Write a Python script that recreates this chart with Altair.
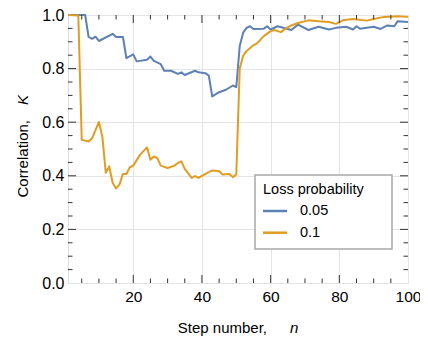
import altair as alt
import pandas as pd

# ---- data ----
series_names = ["0.05", "0.1"]
series_colors = ["#5E81B5", "#E19C24"]

blue_n = [1, 6, 7, 8, 9, 10, 14, 15, 17, 18, 20, 21, 24, 25, 26, 28, 29, 31, 33, 34, 35,
          38, 39, 41, 42, 43, 45, 47, 49, 50, 51, 52, 53, 54, 55, 58, 59, 60, 62, 65, 66,
          68, 71, 74, 77, 79, 82, 84, 85, 86, 90, 92, 94, 96, 97, 100]
blue_v = [1.0, 1.0, 0.918, 0.911, 0.919, 0.903, 0.930, 0.918, 0.918, 0.839, 0.853, 0.827,
          0.833, 0.845, 0.829, 0.817, 0.792, 0.792, 0.780, 0.786, 0.776,
          0.792, 0.786, 0.783, 0.774, 0.696, 0.712, 0.721, 0.737, 0.731, 0.884, 0.934,
          0.952, 0.958, 0.948, 0.949, 0.958, 0.946, 0.958, 0.948, 0.944,
          0.964, 0.944, 0.956, 0.946, 0.952, 0.956, 0.946, 0.958, 0.949, 0.956, 0.948,
          0.961, 0.958, 0.977, 0.974]

orange_n = [1, 4, 5, 7, 8, 10, 11, 12, 13, 14, 15, 16, 17, 18, 19, 20, 22, 24, 25, 26, 27,
            28, 30, 32, 33, 34, 35, 37, 38, 39, 41, 43, 45, 46, 48, 49, 50, 51, 52, 53,
            55, 56, 57, 58, 60, 61, 63, 64, 66, 68, 71, 74, 77, 79, 81, 84, 88, 90, 93,
            97, 100]
orange_v = [1.0, 0.998, 0.534, 0.528, 0.540, 0.601, 0.546, 0.411, 0.435, 0.374, 0.353,
            0.368, 0.407, 0.407, 0.432, 0.438, 0.479, 0.506, 0.460, 0.472, 0.466,
            0.438, 0.429, 0.438, 0.448, 0.454, 0.426, 0.392, 0.399, 0.392, 0.407, 0.420,
            0.417, 0.405, 0.407, 0.395, 0.405, 0.800, 0.848, 0.866,
            0.887, 0.894, 0.907, 0.921, 0.940, 0.944, 0.936, 0.946, 0.961, 0.970, 0.980,
            0.977, 0.974, 0.967, 0.980, 0.985, 0.979, 0.985, 0.993, 0.995, 0.993]

x_label_values = [20, 40, 60, 80, 100]
y_label_values = [0.0, 0.2, 0.4, 0.6, 0.8, 1.0]
x_major_ticks = [20, 40, 60, 80]
x_minor_ticks = [5, 10, 15, 25, 30, 35, 45, 50, 55, 65, 70, 75, 85, 90, 95]
y_major_ticks = [0.2, 0.4, 0.6, 0.8]
y_minor_ticks = [0.05, 0.1, 0.15, 0.25, 0.3, 0.35, 0.45, 0.5, 0.55, 0.65, 0.7, 0.75,
                 0.85, 0.9, 0.95]

x_title = "Step number,"
x_title_var = "n"
y_title = "Correlation,"
y_title_var = "K"
legend_title = "Loss probability"

# ---- layout ----
W, H = 340, 268
FONT = "Liberation Sans"
MAJOR, MINOR = 8, 4.5
TICK_COLOR = "#333333"

df = pd.concat([
    pd.DataFrame({"n": blue_n, "K": blue_v, "series": series_names[0], "ord": 0}),
    pd.DataFrame({"n": orange_n, "K": orange_v, "series": series_names[1], "ord": 1}),
], ignore_index=True)

xs = alt.Scale(domain=[1, 100], nice=False, zero=False)
ys = alt.Scale(domain=[0, 1], nice=False, zero=False)

xa = alt.Axis(values=x_label_values, title=None, grid=True, gridColor="#e4e4e4",
              ticks=False, tickSize=0, domain=False, labelFontSize=15.5, labelFont=FONT,
              labelColor="black", labelPadding=6, labelFlush=False, labelOverlap=False)
ya = alt.Axis(values=y_label_values, format=".1f", title=None, grid=True,
              gridColor="#e4e4e4", ticks=False, tickSize=0, domain=False,
              labelFontSize=16, labelFont=FONT, labelColor="black", labelPadding=4,
              labelOverlap=False)

lines = alt.Chart(df).mark_line(strokeWidth=2, strokeJoin="round").encode(
    x=alt.X("n:Q", scale=xs, axis=xa),
    y=alt.Y("K:Q", scale=ys, axis=ya),
    color=alt.Color("series:N", scale=alt.Scale(domain=series_names, range=series_colors),
                    legend=None),
    order=alt.Order("ord:Q"),
)


def xticks(vals, length, top):
    d = pd.DataFrame({"n": vals})
    y1 = 0 if top else H
    y2 = length if top else H - length
    return alt.Chart(d).mark_rule(color=TICK_COLOR, strokeWidth=1).encode(
        x=alt.X("n:Q", scale=xs, axis=xa), y=alt.value(y1), y2=alt.value(y2))


def yticks(vals, length, right):
    d = pd.DataFrame({"K": vals})
    x1 = W if right else 0
    x2 = W - length if right else length
    return alt.Chart(d).mark_rule(color=TICK_COLOR, strokeWidth=1).encode(
        y=alt.Y("K:Q", scale=ys, axis=ya), x=alt.value(x1), x2=alt.value(x2))


one = pd.DataFrame({"k": [0]})


def label(text, x, y, align, angle=0, italic=False, size=15):
    return alt.Chart(one).mark_text(
        text=text, align=align, baseline="middle", angle=angle, font=FONT,
        fontSize=size, color="black", fontStyle="italic" if italic else "normal",
    ).encode(x=alt.value(x), y=alt.value(y))


# legend box (drawn by hand to match the framed legend of the reference)
LX0, LX1, LY0, LY1 = 187, 324, 160, 234
legend_box = alt.Chart(one).mark_rect(
    fill="white", stroke="#a8a8a8", strokeWidth=1.5
).encode(x=alt.value(LX0), x2=alt.value(LX1), y=alt.value(LY0), y2=alt.value(LY1))
legend_layers = [legend_box, label(legend_title, 195, 175, "left", size=14.5)]
for i, (name, col) in enumerate(zip(series_names, series_colors)):
    yy = 196 + i * 21.7
    legend_layers.append(
        alt.Chart(one).mark_rule(color=col, strokeWidth=2.5).encode(
            x=alt.value(195), x2=alt.value(219), y=alt.value(yy)))
    legend_layers.append(label(name, 232, yy, "left", size=14.5))

chart = alt.layer(
    lines,
    xticks(x_major_ticks, MAJOR, False), xticks(x_minor_ticks, MINOR, False),
    xticks(x_major_ticks, MAJOR, True), xticks(x_minor_ticks, MINOR, True),
    yticks(y_major_ticks, MAJOR, False), yticks(y_minor_ticks, MINOR, False),
    yticks(y_major_ticks, MAJOR, True), yticks(y_minor_ticks, MINOR, True),
    *legend_layers,
    label(x_title, 199, 313, "right"),
    label(x_title_var, 222, 313, "left", italic=True),
    label(y_title, -45, 105, "right", angle=270),
    label(y_title_var, -45, 90, "left", angle=270, italic=True),
).properties(
    width=W, height=H,
    autosize=alt.AutoSizeParams(type="none"),
    padding={"left": 60, "top": 7, "right": 12, "bottom": 56},
).configure_view(
    stroke="#444444", strokeWidth=1
).configure(background="white")

chart.save("out.html", embed_options={"renderer": "svg", "actions": False})
